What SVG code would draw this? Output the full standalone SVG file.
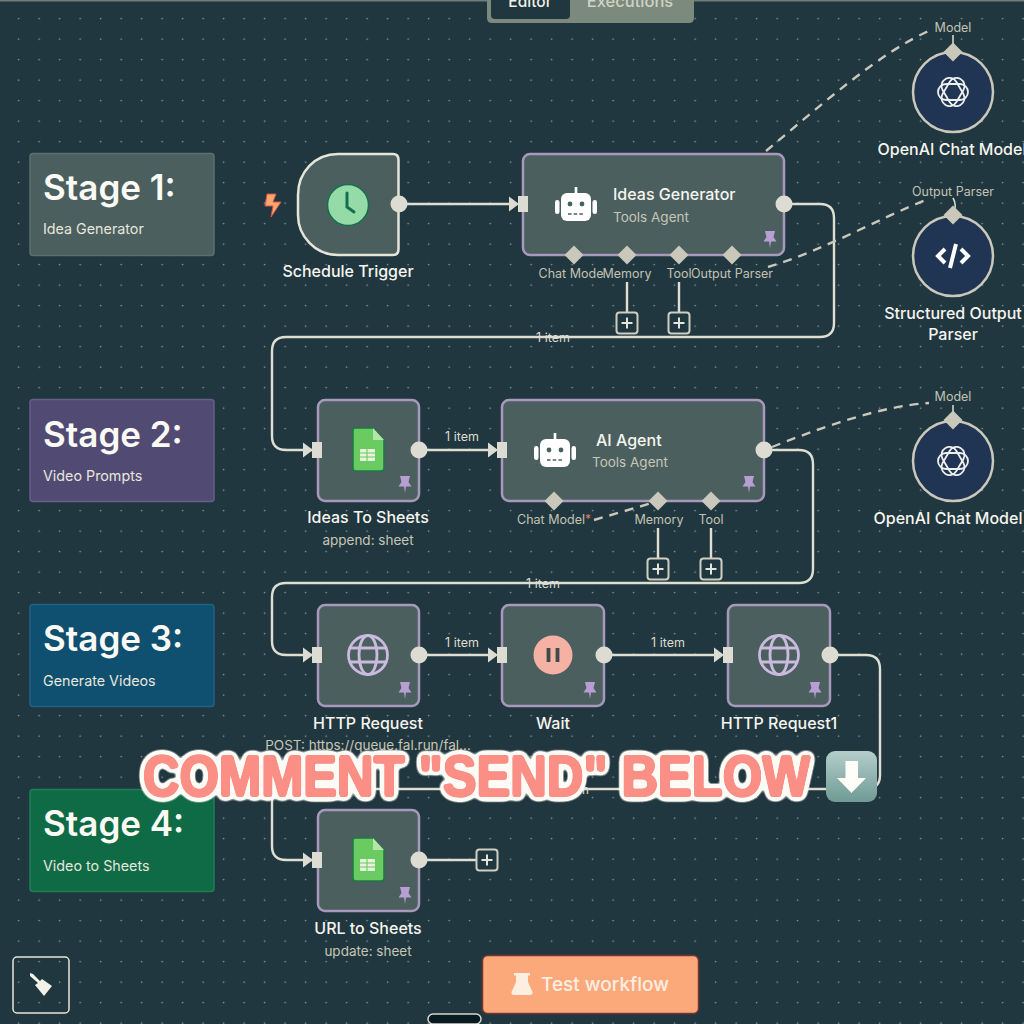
<svg xmlns="http://www.w3.org/2000/svg" xmlns:xlink="http://www.w3.org/1999/xlink" width="1024" height="1024" viewBox="0 0 1024 1024">
<style>
text{font-family:Inter,"Liberation Sans",sans-serif}
.card{fill:#4b5f5f;stroke:#a898bb;stroke-width:2.5}
.stagebox{stroke-width:1.5}
.h{font-size:35px;font-weight:600;fill:#fbfaf5}
.s{font-size:14.300px;fill:#e6e6dc}
.title{font-size:16px;font-weight:500;fill:#f5f5ee;text-anchor:middle}
.sub{font-size:13.500px;fill:#c6c6b6;text-anchor:middle}
.port{font-size:12.500px;fill:#c2c2b4;text-anchor:middle}
.item{font-size:12.500px;fill:#dcdcd0;text-anchor:middle}
.conn{fill:none;stroke:#dfded3;stroke-width:2.400}
.dash{fill:none;stroke:#c9c8ba;stroke-width:2.400;stroke-dasharray:9 7}
.out{fill:#dddcd2}
.dia{fill:#c9c8ba}
.plus{fill:#21373f;stroke:#cfcec0;stroke-width:2}
.plusl{stroke:#e6e5da;stroke-width:2;fill:none}
.circ{fill:#203553;stroke:#c9c8ba;stroke-width:2.500}
.cm{font-family:'Liberation Sans',Arial,sans-serif;font-size:58px;font-weight:700;fill:#fb8f86;filter:url(#outline)}
</style>
<defs>
<filter id="outline" x="-3%" y="-30%" width="106%" height="160%" color-interpolation-filters="sRGB">
<feGaussianBlur in="SourceAlpha" stdDeviation="3.500"/>
<feComponentTransfer result="bigA"><feFuncA type="linear" slope="20" intercept="-0.400"/></feComponentTransfer>
<feFlood flood-color="#fdfbf6"/><feComposite in2="bigA" operator="in" result="white"/>
<feGaussianBlur in="SourceAlpha" stdDeviation="1"/>
<feComponentTransfer result="fatA"><feFuncA type="linear" slope="6" intercept="-0.460"/></feComponentTransfer>
<feFlood flood-color="#fb8f86"/><feComposite in2="fatA" operator="in" result="pink"/>
<feMerge><feMergeNode in="white"/><feMergeNode in="pink"/></feMerge>
</filter>
<pattern id="dots" x="8.400" y="8.400" width="20.500" height="20.500" patternUnits="userSpaceOnUse"><circle cx="10.250" cy="10.250" r="0.800" fill="#93a6a6"/></pattern>
<linearGradient id="emoji" x1="0" y1="0" x2="0" y2="1"><stop offset="0" stop-color="#b4cdca"/><stop offset="1" stop-color="#6f9b95"/></linearGradient>
<g id="in"><path d="M-10 -7.500L0 0L-10 7.500Z" fill="#dddcd2"/><rect x="-1" y="-8" width="10" height="16" fill="#dddcd2"/></g>
<path id="pin" d="M-5 -8H5L3.500 -2L6.500 2.500H1L0 9L-1 2.500H-6.500L-3.500 -2Z" fill="#b79fd3"/>
<path id="d" class="dia" d="M0 -9.500L9.500 0L0 9.500L-9.500 0Z"/>
<g id="plusb"><rect class="plus" x="-10.500" y="-10.500" width="21" height="21" rx="3"/><path class="plusl" d="M-5.500 0H5.500M0 -5.500V5.500"/></g>
<g id="robot"><rect x="-15" y="-13" width="30" height="28" rx="6" fill="#fff"/><rect x="-21" y="-6" width="4.500" height="14" rx="2.200" fill="#fff"/><rect x="16.500" y="-6" width="4.500" height="14" rx="2.200" fill="#fff"/><rect x="-1.300" y="-19" width="2.600" height="7" fill="#fff"/><circle cx="-6" cy="-2" r="2.400" fill="#4b5f5f"/><circle cx="6" cy="-2" r="2.400" fill="#4b5f5f"/><path d="M-8 8H8" stroke="#4b5f5f" stroke-width="1.500" stroke-dasharray="3.500 2.200"/></g>
<g id="sheet"><path d="M-13 -22H5L16 -10V18Q16 21 13 21H-12Q-15 21 -15 18V-20Q-15 -22 -13 -22Z" fill="#6acb60" stroke="#1c7a45" stroke-width="1.500"/><path d="M5 -22L16 -10H5Z" fill="#b5e6a8"/><rect x="-8" y="-1" width="15" height="12" rx="1" fill="#e7f3de"/><path d="M-8 3H7M-8 7H7M-1 -1V11" stroke="#6acb60" stroke-width="1.100"/></g>
<g id="globe" fill="none" stroke="#c9bade" stroke-width="2.800"><circle r="19.500"/><ellipse rx="9" ry="19.500"/><path d="M-18 -7H18M-18 7H18"/></g>
<g id="ai" fill="none" stroke="#eef0ee" stroke-width="1.800"><rect x="-15" y="-8" width="30" height="16" rx="8"/><rect x="-15" y="-8" width="30" height="16" rx="8" transform="rotate(60)"/><rect x="-15" y="-8" width="30" height="16" rx="8" transform="rotate(120)"/></g>
</defs>

<rect width="1024" height="1024" fill="#21373f"/>
<rect width="1024" height="1024" fill="url(#dots)"/>
<rect width="1024" height="1.500" fill="#6f7f75"/>

<g id="connectors">
<path class="conn" d="M399 204H516"/>
<path class="conn" d="M784 204H820Q834 204 834 218V323Q834 337 820 337H286Q272 337 272 351V436Q272 450 286 450H312"/>
<path class="conn" d="M419 450H496"/>
<path class="conn" d="M764 450H799Q813 450 813 464V569Q813 583 799 583H286Q272 583 272 597V641Q272 655 286 655H312"/>
<path class="conn" d="M419 655H496"/>
<path class="conn" d="M604 655H722"/>
<path class="conn" d="M830 655H866Q880 655 880 669V775Q880 789 866 789H286Q272 789 272 803V846Q272 860 286 860H312"/>
<path class="conn" d="M419 860H477"/>
<path class="conn" d="M627 282V312M679 282V312M658 528V558M711 528V558"/>
<path class="dash" d="M766 151C820 106 880 52 931 30"/>
<path class="dash" d="M768 267C820 252 880 218 928 199"/>
<path class="dash" d="M772 447C820 428 880 406 929 403"/>
<path class="dash" d="M594 520L652 503"/>
<path class="conn" d="M953 35V45M953 198Q956 203 955 208M953 405V413" style="stroke-width:1.500"/>
</g>

<g id="stage1"><rect class="stagebox" x="30" y="153.500" width="184" height="102" rx="3" fill="#4b5f5f" stroke="#5d6f6d"/><text class="h" x="43" y="200">Stage 1:</text><text class="s" x="43" y="234">Idea Generator</text></g>
<g id="stage2"><rect class="stagebox" x="30" y="399.500" width="184" height="102" rx="3" fill="#514b74" stroke="#655f8b"/><text class="h" x="43" y="447">Stage 2:</text><text class="s" x="43" y="481">Video Prompts</text></g>
<g id="stage3"><rect class="stagebox" x="30" y="604.500" width="184" height="102" rx="3" fill="#0f4f70" stroke="#1f6382"/><text class="h" x="43" y="651">Stage 3:</text><text class="s" x="43" y="686">Generate Videos</text></g>
<g id="stage4"><rect class="stagebox" x="30" y="789.500" width="184" height="102" rx="3" fill="#0e6b46" stroke="#1f7d58"/><text class="h" x="43" y="836">Stage 4:</text><text class="s" x="43" y="871">Video to Sheets</text></g>

<g id="schedule-trigger">
<path d="M267 194H276L273 202H281L271 217L273 206H265Z" fill="#f9a76c" stroke="#d9534a" stroke-width="1"/>
<path d="M338 154H393Q398.500 154 398.500 160V249Q398.500 255 393 255H338C315 255 298 236 298 215V195C298 172 315 154 338 154Z" fill="#4b5f5f" stroke="#e6e5da" stroke-width="2.500"/>
<circle cx="348" cy="205" r="20.500" fill="#94dba8" stroke="#15704d" stroke-width="1.500"/>
<path d="M347 193V207L354 212" fill="none" stroke="#15704d" stroke-width="3" stroke-linecap="round"/>
<circle class="out" cx="399" cy="204" r="8.500"/>
<text class="title" x="348" y="277">Schedule Trigger</text>
</g>

<g id="ideas-generator">
<rect class="card" x="523" y="154" width="261" height="101" rx="7"/>
<use href="#in" x="519" y="204"/>
<use href="#robot" x="576" y="206"/>
<text x="613" y="200" style="font-size:16px;font-weight:500;fill:#f5f5ee">Ideas Generator</text>
<text x="613" y="222" style="font-size:13.500px;fill:#c6c6b6">Tools Agent</text>
<use href="#pin" x="770" y="239"/>
<circle class="out" cx="784" cy="204" r="8.500"/>
<use href="#d" x="574" y="255"/><use href="#d" x="627" y="255"/><use href="#d" x="679" y="255"/><use href="#d" x="732" y="255"/>
<text class="port" x="571" y="278">Chat Mode</text><text class="port" x="627" y="278">Memory</text><text class="port" x="679" y="278">Tool</text><text class="port" x="732" y="278">Output Parser</text>
<use href="#plusb" x="627" y="323"/><use href="#plusb" x="679" y="323"/>
</g>
<text class="item" x="553" y="342">1 item</text>

<g id="openai-1"><circle class="circ" cx="953" cy="92" r="40"/><use href="#ai" x="953" y="92"/><use href="#d" x="953" y="52"/><text class="port" x="953" y="32">Model</text><text class="title" x="952" y="155">OpenAI Chat Model</text></g>
<g id="parser"><circle class="circ" cx="953" cy="256" r="40"/><path d="M945 249L938 256L945 263M961 249L968 256L961 263M956 244L950 268" fill="none" stroke="#fff" stroke-width="4"/><use href="#d" x="953" y="215"/><text class="port" x="953" y="196">Output Parser</text><text class="title" x="953" y="319">Structured Output</text><text class="title" x="953" y="340">Parser</text></g>
<g id="openai-2"><circle class="circ" cx="953" cy="461" r="40"/><use href="#ai" x="953" y="461"/><use href="#d" x="953" y="420"/><text class="port" x="953" y="401">Model</text><text class="title" x="948" y="524">OpenAI Chat Model</text></g>

<g id="ideas-to-sheets"><rect class="card" x="318" y="400" width="101" height="101" rx="7"/><use href="#in" x="313" y="450"/><use href="#sheet" x="368" y="450"/><use href="#pin" x="405" y="484"/><circle class="out" cx="419" cy="450" r="8.500"/><text class="title" x="368" y="523">Ideas To Sheets</text><text class="sub" x="368" y="545">append: sheet</text></g>
<text class="item" x="462" y="441">1 item</text>

<g id="ai-agent">
<rect class="card" x="502" y="400" width="262" height="101" rx="7"/>
<use href="#in" x="498" y="450"/>
<use href="#robot" x="555" y="452"/>
<text x="596" y="446" style="font-size:16px;font-weight:500;fill:#f5f5ee">AI Agent</text><text x="592" y="467" style="font-size:13.500px;fill:#c6c6b6">Tools Agent</text>
<use href="#pin" x="749" y="484"/><circle class="out" cx="764" cy="450" r="8.500"/>
<use href="#d" x="554" y="501"/><use href="#d" x="658" y="501"/><use href="#d" x="711" y="501"/>
<text class="port" x="551" y="524">Chat Model</text><text x="585" y="523" style="font-size:12px;fill:#e8746a">*</text><text class="port" x="659" y="524">Memory</text><text class="port" x="711" y="524">Tool</text>
<use href="#plusb" x="658" y="569"/><use href="#plusb" x="711" y="569"/>
</g>
<text class="item" x="543" y="588">1 item</text>

<g id="http-request"><rect class="card" x="318" y="605" width="101" height="101" rx="7"/><use href="#in" x="313" y="655"/><use href="#globe" x="368" y="655"/><use href="#pin" x="405" y="690"/><circle class="out" cx="419" cy="655" r="8.500"/><text class="title" x="368" y="729">HTTP Request</text><text class="sub" x="368" y="750">POST: https://queue.fal.run/fal...</text></g>
<text class="item" x="462" y="647">1 item</text>
<g id="wait"><rect class="card" x="502" y="605" width="102" height="101" rx="7"/><use href="#in" x="498" y="655"/><circle cx="553" cy="655" r="19.500" fill="#f5b1a4"/><path d="M548.500 648V662M557.500 648V662" stroke="#3f4a4a" stroke-width="3.800"/><use href="#pin" x="590" y="690"/><circle class="out" cx="604" cy="655" r="8.500"/><text class="title" x="553" y="729">Wait</text></g>
<text class="item" x="668" y="647">1 item</text>
<g id="http-request1"><rect class="card" x="728" y="605" width="102" height="101" rx="7"/><use href="#in" x="724" y="655"/><use href="#globe" x="779" y="655"/><use href="#pin" x="815" y="690"/><circle class="out" cx="830" cy="655" r="8.500"/><text class="title" x="779" y="729">HTTP Request1</text></g>
<text class="item" x="572" y="794">1 item</text>
<g id="url-to-sheets"><rect class="card" x="318" y="810" width="101" height="101" rx="7"/><use href="#in" x="313" y="860"/><use href="#sheet" x="368" y="860"/><use href="#pin" x="405" y="895"/><circle class="out" cx="419" cy="860" r="8.500"/><use href="#plusb" x="487" y="860"/><text class="title" x="368" y="934">URL to Sheets</text><text class="sub" x="368" y="956">update: sheet</text></g>

<g id="tabs"><path d="M487 0H694V18Q694 23 689 23H492Q487 23 487 18Z" fill="#7b8a7d"/><path d="M491 0H570V15Q570 19 566 19H495Q491 19 491 15Z" fill="#21373f"/><text x="530" y="7" text-anchor="middle" style="font-size:15.500px;font-weight:500;fill:#f0f0e8">Editor</text><text x="630" y="7" text-anchor="middle" style="font-size:16.500px;font-weight:500;fill:#cfd2c4">Executions</text></g>

<g id="comment">
<text class="cm" x="143" y="796" textLength="667" lengthAdjust="spacingAndGlyphs">COMMENT "SEND" BELOW</text>
<rect x="826" y="751" width="51" height="51" rx="9" fill="url(#emoji)"/>
<path d="M845.500 761H858V778H866L851.500 793L837 778H845.500Z" fill="#fffdf8"/>
</g>

<g id="clear"><rect x="13" y="957" width="56" height="56" rx="4" fill="none" stroke="#e6e5da" stroke-width="1.500"/><path d="M30 973L33 974L40 981L42 979L52 986L44 996L35 985L38 983L30 976Z" fill="#f2f1e8"/></g>
<g id="test-workflow"><rect x="482.500" y="955.500" width="216" height="58" rx="5" fill="#fba97a" stroke="#7a3430" stroke-width="1.500"/><path d="M514 973H530V975.500H528V982L532.500 992Q533 995 530 995H514Q511 995 511.500 992L516 982V975.500H514Z" fill="#fdeee2"/><text x="541" y="991" style="font-size:19px;font-weight:500;fill:#fdeee2">Test workflow</text></g>
<rect id="home" x="428" y="1014" width="53" height="10" rx="5" fill="#081a22" stroke="#d8d7c9" stroke-width="1.500"/>
</svg>
